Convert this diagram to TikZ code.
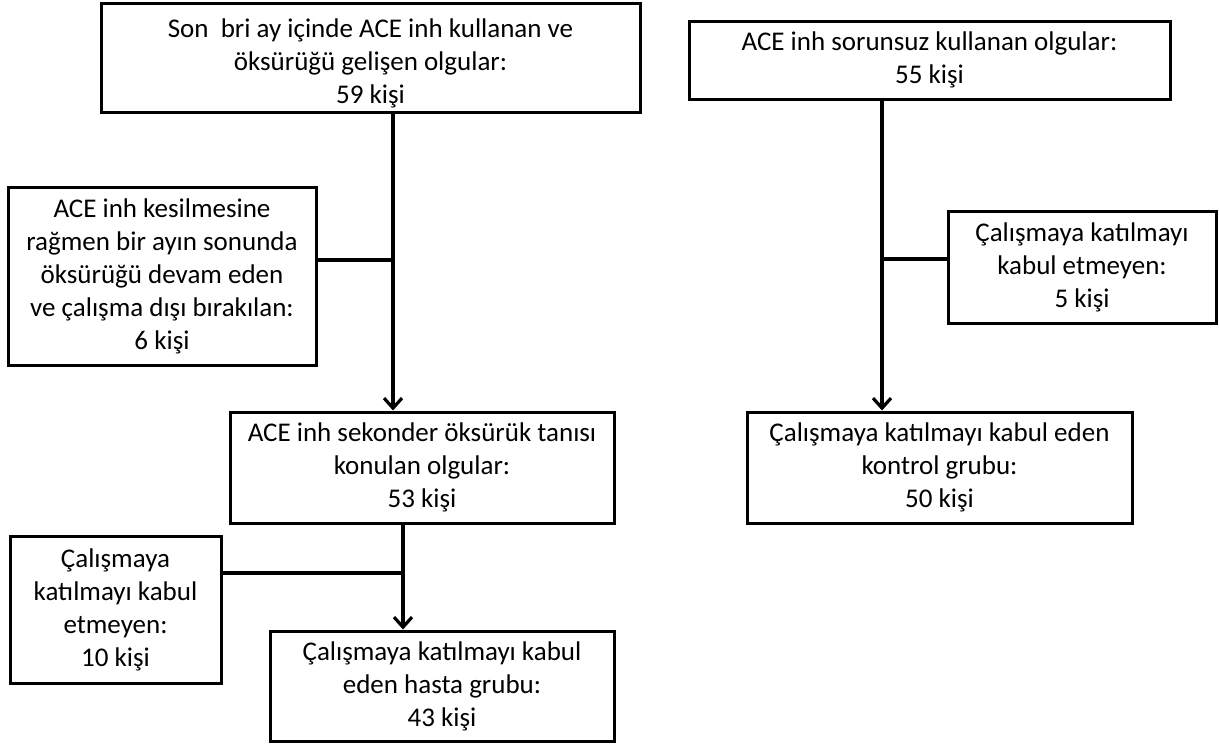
\documentclass[tikz,border=0pt]{standalone}
\usepackage{fontspec}
\setmainfont{Carlito}
\usetikzlibrary{arrows.meta}

\tikzset{
  flowbox/.style={draw=black, line width=3pt, fill=white, inner sep=0pt,
    align=center, font=\fontsize{27}{33}\selectfont},
  link/.style={draw=black, line width=3.2pt},
  flowarrow/.style={link, -{Straight Barb[length=10pt,width=18pt,line width=3.2pt]}}
}

\begin{document}
\begin{tikzpicture}[x=1pt, y=-1pt]
\useasboundingbox[fill=white] (0,0) rectangle (1219,744);

% Patient branch
\node[flowbox, minimum width=539pt, minimum height=109pt] (b1) at (370.5,57.5)
  {\rule{0pt}{30pt}Son\ \ bri ay içinde ACE inh kullanan ve\\öksürüğü gelişen olgular:\\59 kişi};
\node[flowbox, minimum width=308pt, minimum height=178pt] (b3) at (162,276)
  {ACE inh kesilmesine\\rağmen bir ayın sonunda\\öksürüğü devam eden\\ve çalışma dışı bırakılan:\\6 kişi};
\node[flowbox, minimum width=384pt, minimum height=111pt] (b5) at (422,467.5)
  {ACE inh sekonder öksürük tanısı\\konulan olgular:\\53 kişi};
\node[flowbox, minimum width=211pt, minimum height=147pt] (b7) at (115.5,609.5)
  {Çalışmaya\\katılmayı kabul\\etmeyen:\\10 kişi};
\node[flowbox, minimum width=344pt, minimum height=110pt] (b8) at (442,686)
  {Çalışmaya katılmayı kabul\\eden hasta grubu:\\43 kişi};

% Control branch
\node[flowbox, minimum width=481pt, minimum height=78pt] (b2) at (929.5,60)
  {ACE inh sorunsuz kullanan olgular:\\55 kişi};
\node[flowbox, minimum width=268pt, minimum height=112pt] (b4) at (1082,267)
  {Çalışmaya katılmayı\\kabul etmeyen:\\5 kişi};
\node[flowbox, minimum width=385pt, minimum height=111pt] (b6) at (939.5,467.5)
  {Çalışmaya katılmayı kabul eden\\kontrol grubu:\\50 kişi};

% Junction points of the exclusion branches
\coordinate (j1) at (393,260);
\coordinate (j2) at (882,259);
\coordinate (j3) at (403,573);

% Connectors
\draw[link] (b1.south -| j1) -- (j1);
\draw[flowarrow] (j1) -- (b5.north -| j1);
\draw[link] (b3.east |- j1) -- (j1);

\draw[link] (b2.south -| j2) -- (j2);
\draw[flowarrow] (j2) -- (b6.north -| j2);
\draw[link] (j2) -- (b4.west |- j2);

\draw[link] (b5.south -| j3) -- (j3);
\draw[flowarrow] (j3) -- (b8.north -| j3);
\draw[link] (b7.east |- j3) -- (j3);
\end{tikzpicture}
\end{document}
